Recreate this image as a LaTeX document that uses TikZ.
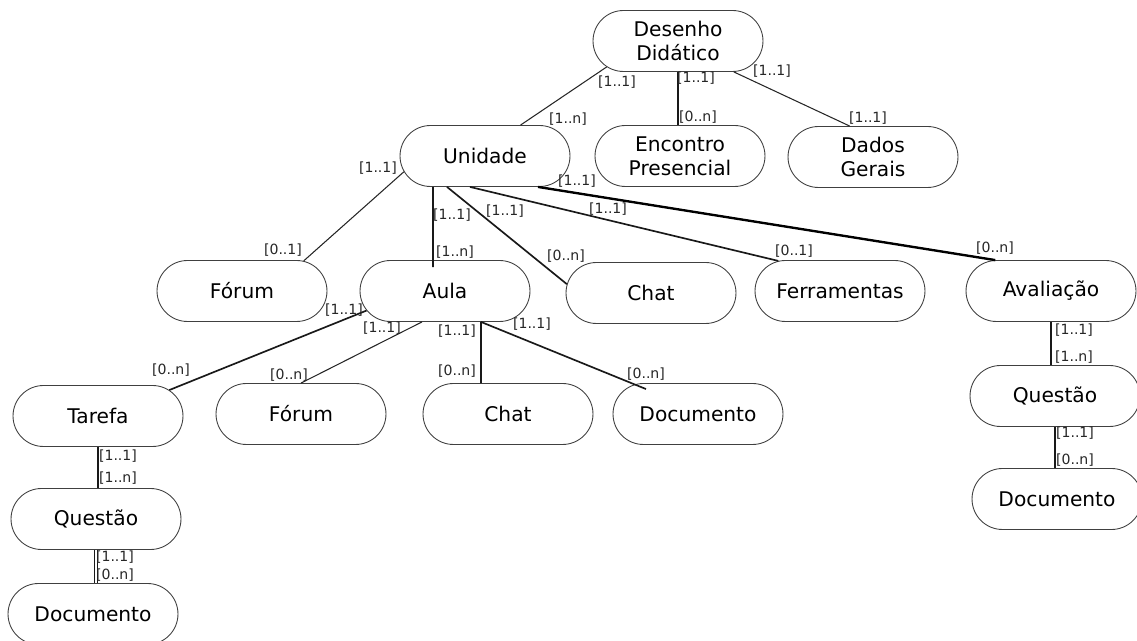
\documentclass[tikz,border=0pt]{standalone}
\usepackage{fontspec}
\setmainfont{DejaVu Sans}
\usetikzlibrary{shapes.misc,calc}

\tikzset{
  entidade/.style={draw=black!75, line width=0.5pt, rounded rectangle,
    minimum width=3.4cm, minimum height=1.22cm, inner sep=0pt, align=center,
    font=\fontsize{11.5}{13.5}\selectfont, text=black},
  card/.style={inner sep=0pt, font=\fontsize{8}{9}\selectfont, text=black!85},
  liga/.style={line width=0.6pt, draw=black!85},
  ligaf/.style={line width=0.95pt, draw=black!90},
  ligaff/.style={line width=1.35pt, draw=black},
}

\begin{document}
\begin{tikzpicture}[x=0.02cm,y=-0.02cm]
			%%%%% START %%%%%
			\useasboundingbox (0,0) rectangle (1137,641);
			
			% entidades
			\node[entidade] (dd) at (678,41) {Desenho\\Didático};
			\node[entidade] (uni) at (485,156) {Unidade};
			\node[entidade] (enc) at (680,156) {Encontro\\Presencial};
			\node[entidade] (dados) at (873,157) {Dados\\Gerais};
			
			\node[entidade] (forumA) at (242,291) {Fórum};
			\node[entidade] (aula) at (445,291) {Aula};
			\node[entidade] (chatA) at (651,293) {Chat};
			\node[entidade] (ferr) at (840,291) {Ferramentas};
			\node[entidade] (aval) at (1051,291) {Avaliação};
			
			\node[entidade] (tarefa) at (98,416) {Tarefa};
			\node[entidade] (forumB) at (301,414) {Fórum};
			\node[entidade] (chatB) at (508,414) {Chat};
			\node[entidade] (docB) at (698,414) {Documento};
			
			\node[entidade] (questA) at (96,519) {Questão};
			\node[entidade] (docA) at (93,614) {Documento};
			\node[entidade] (questB) at (1055,396) {Questão};
			\node[entidade] (docC) at (1057,499) {Documento};
			
			% ligacoes
			\draw[liga] (dd.200) -- (uni.41);
			\draw[ligaf] (dd.south) -- (dd.south |- enc.north);
			\draw[liga] (dd.-29) -- (dados.127);
			
			\draw[liga] (uni.191) -- (forumA.26);
			\draw[ligaf] ([xshift=-1.04cm]uni.south) -- ([xshift=-0.24cm,yshift=-0.14cm]aula.north);
			\draw[ligaf] ([xshift=-0.76cm]uni.south) -- (chatA.174);
			\draw[ligaf] ([xshift=-0.3cm]uni.south) -- (ferr.154);
			\draw[ligaff] ([xshift=1.06cm]uni.south) -- (aval.151);
			
			\draw[ligaf] (aula.194) -- (tarefa.20);
			\draw[liga] ([xshift=-0.46cm]aula.south) -- (forumB.north);
			\draw[ligaf] ([xshift=0.72cm]aula.south) -- ([xshift=-0.54cm]chatB.north);
			\draw[ligaf] ([xshift=0.72cm]aula.south) -- ([xshift=-1.04cm,yshift=-0.12cm]docB.north);
			
			\draw[ligaf] (tarefa.south) -- (tarefa.south |- questA.north);
			\draw[ligaf, double, double distance=0.8pt, line width=0.5pt] (questA.south) -- (questA.south |- docA.north);
			\draw[ligaf] (aval.south) -- (aval.south |- questB.north);
			\draw[ligaf] (questB.south) -- (questB.south |- docC.north);
			
			% cardinalidades
			\node[card] (k1a) at (617,82) {[1..1]};
			\node[card] (k1b) at (568,119) {[1..n]};
			\node[card] (k2a) at (696,78) {[1..1]};
			\node[card] (k2b) at (698,117) {[0..n]};
			\node[card] (k3a) at (772,71) {[1..1]};
			\node[card] (k3b) at (868,118) {[1..1]};
			
			\node[card] (k4a) at (378,168) {[1..1]};
			\node[card] (k4b) at (283,250) {[0..1]};
			\node[card] (k5a) at (452,215) {[1..1]};
			\node[card] (k5b) at (455,252) {[1..n]};
			\node[card] (k6a) at (505,211) {[1..1]};
			\node[card] (k6b) at (566,256) {[0..n]};
			\node[card] (k7a) at (608,209) {[1..1]};
			\node[card] (k7b) at (794,251) {[0..1]};
			\node[card] (k8a) at (577,181) {[1..1]};
			\node[card] (k8b) at (995,248) {[0..n]};
			
			\node[card] (k9a) at (344,310) {[1..1]};
			\node[card] (k9b) at (171,370) {[0..n]};
			\node[card] (k10a) at (382,328) {[1..1]};
			\node[card] (k10b) at (289,375) {[0..n]};
			\node[card] (k11a) at (457,331) {[1..1]};
			\node[card] (k11b) at (457,371) {[0..n]};
			\node[card] (k12a) at (532,324) {[1..1]};
			\node[card] (k12b) at (646,374) {[0..n]};
			
			\node[card] (k13a) at (118,456) {[1..1]};
			\node[card] (k13b) at (118,478) {[1..n]};
			\node[card] (k14a) at (115,557) {[1..1]};
			\node[card] (k14b) at (115,575) {[0..n]};
			\node[card] (k15a) at (1074,330) {[1..1]};
			\node[card] (k15b) at (1074,357) {[1..n]};
			\node[card] (k16a) at (1075,433) {[1..1]};
			\node[card] (k16b) at (1075,460) {[0..n]};
			
			%%%%% END %%%%%
\end{tikzpicture}
\end{document}
